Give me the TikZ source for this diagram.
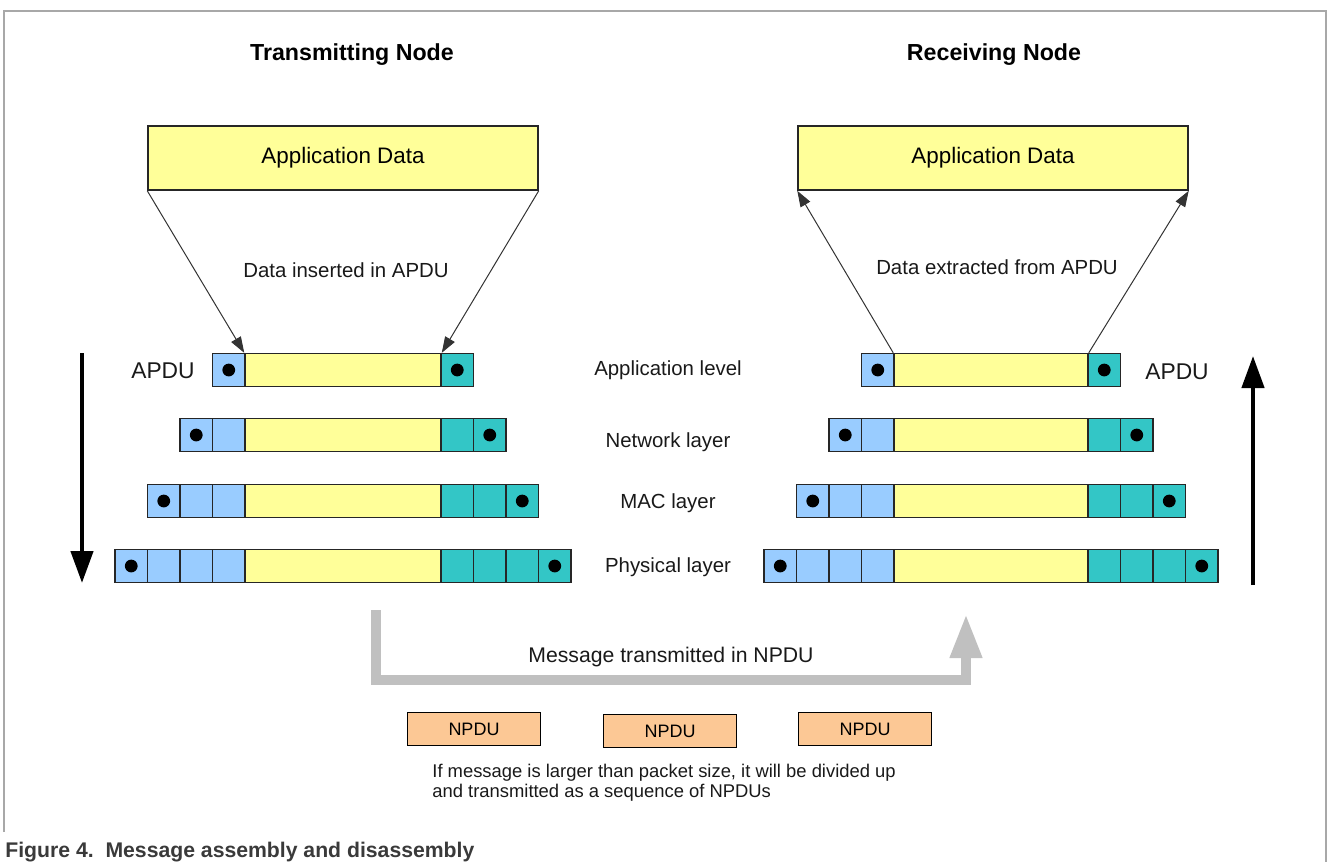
\documentclass[tikz,border=0pt]{standalone}
\usepackage{fontspec}
\setmainfont{Liberation Sans}
\usepackage{xcolor}
\usetikzlibrary{positioning, arrows.meta, calc}
\definecolor{hdrblue}{HTML}{99CCFF}
\definecolor{trlteal}{HTML}{33C6C6}
\definecolor{payload}{HTML}{FFFF99}
\definecolor{npduorange}{HTML}{FCC895}
\definecolor{flowgray}{HTML}{C0C0C0}
\definecolor{framegray}{HTML}{A8A8A8}
\definecolor{captiongray}{HTML}{3A3A3A}

\tikzset{
  cell/.style={draw=black!85, line width=0.75pt, minimum height=16.4pt, minimum width=16.25pt, inner sep=0pt},
  appbox/.style={draw=black!85, line width=0.75pt, fill=payload, minimum width=195pt, minimum height=32pt, font=\fontsize{11.2}{13}\selectfont},
  npdubox/.style={draw=black, line width=0.75pt, fill=npduorange, minimum width=66.5pt, minimum height=16.5pt, inner sep=0pt, font=\fontsize{9}{10}\selectfont},
  lbl/.style={font=\fontsize{10.2}{12}\selectfont, text=black!90},
  title/.style={font=\bfseries\fontsize{11.6}{13}\selectfont},
  thinarrow/.style={draw=black!80, line width=0.5pt, -{Triangle[length=8pt,width=5.5pt]}},
  bigarrow/.style={line width=2.2pt, -{Triangle[length=16pt,width=11pt]}},
}

\begin{document}
\begin{tikzpicture}[x=0.5pt, y=-0.5pt]
  \useasboundingbox (0,0) rectangle (1328,862);
  \draw[framegray, line width=0.8pt] (4,832) -- (4,11) -- (1326,11) -- (1326,862);

  \node[title] (txnode) at (352,55) {Transmitting Node};
  \node[title] (rxnode) at (994,55) {Receiving Node};

  \node[appbox] (appL) at (343,158) {Application Data};
  \node[appbox] (appR) at (993,158) {Application Data};

  \foreach \row/\yy in {1/370,2/435,3/501,4/566} {
    \node[cell, fill=payload, minimum width=98pt] (Ld\row) at (343,\yy) {};
    \node[cell, fill=payload, minimum width=97pt] (Rd\row) at (991,\yy) {};
    \foreach \i in {1,...,\row} {
      \node[cell, fill=hdrblue] (Lh\row\i) at ({245-32.5*\i+16.25},\yy) {};
      \node[cell, fill=trlteal] (Lt\row\i) at ({441+32.5*\i-16.25},\yy) {};
      \node[cell, fill=hdrblue] (Rh\row\i) at ({894-32.5*\i+16.25},\yy) {};
      \node[cell, fill=trlteal] (Rt\row\i) at ({1088+32.5*\i-16.25},\yy) {};
    }
    \fill (Lh\row\row) circle (3.2pt);
    \fill (Lt\row\row) circle (3.2pt);
    \fill (Rh\row\row) circle (3.2pt);
    \fill (Rt\row\row) circle (3.2pt);
  }

  \draw[thinarrow] (appL.south west) -- (Ld1.north west);
  \draw[thinarrow] (appL.south east) -- (Ld1.north east);
  \draw[thinarrow] (Rd1.north west) -- (appR.south west);
  \draw[thinarrow] (Rd1.north east) -- (appR.south east);

  \node[lbl] (insL) at (346,270) {Data inserted in APDU};
  \node[lbl] (extR) at (997,267) {Data extracted from APDU};

  \node[lbl, font=\fontsize{11.4}{13}\selectfont] (apduL) at (163,371) {APDU};
  \node[lbl, font=\fontsize{11.4}{13}\selectfont] (apduR) at (1177,372) {APDU};

  \node[lbl] (lvApp) at (668,370) {Application level};
  \node[lbl] (lvNet) at (668,442) {Network layer};
  \node[lbl] (lvMac) at (668,503) {MAC layer};
  \node[lbl] (lvPhy) at (668,567) {Physical layer};

  \coordinate (dnTop) at (82,353);
  \coordinate (dnEnd) at (82,583);
  \coordinate (upTop) at (1253,356);
  \coordinate (upEnd) at (1253,585);
  \draw[bigarrow] (dnTop) -- (dnEnd);
  \draw[bigarrow] (upEnd) -- (upTop);

  \coordinate (flowA) at (376,610);
  \coordinate (flowB) at (966,614);
  \draw[flowgray, line width=5pt, -{Triangle[length=22pt,width=15pt]}] (flowA) |- (671,680) -| (flowB);
  \node[lbl, font=\fontsize{10.6}{12}\selectfont] (msg) at (671,657) {Message transmitted in NPDU};

  \node[npdubox] (np1) at (474,729) {NPDU};
  \node[npdubox] (np2) at (670,731) {NPDU};
  \node[npdubox] (np3) at (865,729) {NPDU};

  \node[anchor=north west, align=left, inner sep=0pt, text=black!90, font=\fontsize{9.2}{10}\selectfont] (note) at (432,764)
    {If message is larger than packet size, it will be divided up\\and transmitted as a sequence of NPDUs};

  \node[anchor=base west, inner sep=0pt, text=captiongray, font=\bfseries\fontsize{10.6}{12}\selectfont] (caption) at (5,857)
    {Figure 4.\ \ Message assembly and disassembly};
\end{tikzpicture}
\end{document}
